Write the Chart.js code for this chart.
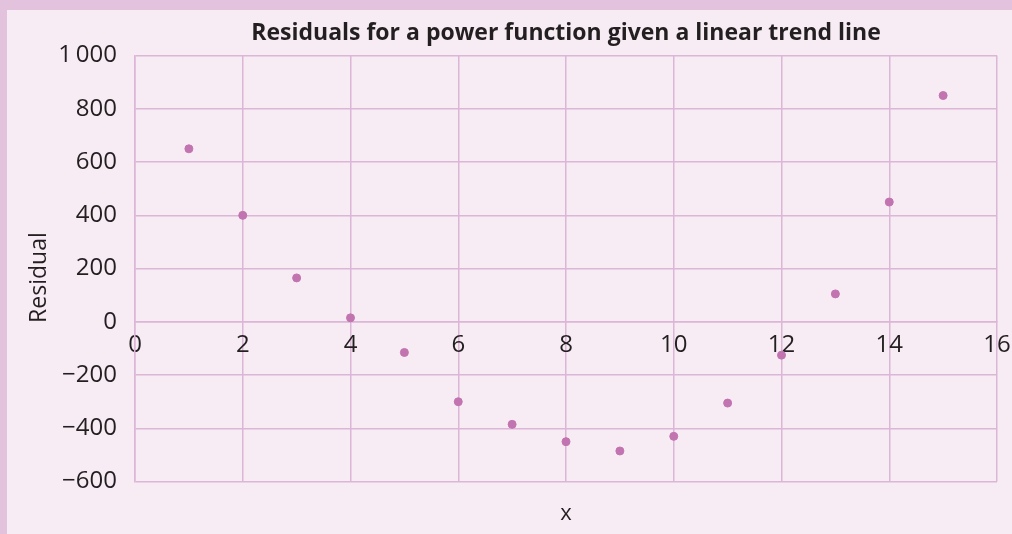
<!DOCTYPE html>
<html>
<head>
<meta charset="utf-8">
<script src="https://cdn.jsdelivr.net/npm/chart.js@4/dist/chart.umd.min.js"></script>
<style>
  body { margin: 0; background: #e2c2dc; width: 1012px; height: 534px; overflow: hidden; }
  #wrap { position: absolute; left: 7px; top: 10px; width: 1005px; height: 524px; background: #f7ebf4; }
</style>
</head>
<body>
<div id="wrap"><canvas id="residualChart"></canvas></div>
<script>
  const xValues = [1, 2, 3, 4, 5, 6, 7, 8, 9, 10, 11, 12, 13, 14, 15];
  const residuals = [650, 400, 165, 15, -115, -300, -385, -450, -485, -430, -305, -125, 105, 450, 850];
  const xTicks = [0, 2, 4, 6, 8, 10, 12, 14, 16];
  const yTicks = [-600, -400, -200, 0, 200, 400, 600, 800, 1000];

  const textColor = "#231f20";
  const gridColor = "#dcb6d6";

  const fmtY = (v) => {
    const abs = Math.abs(v);
    const s = abs >= 1000 ? Math.floor(abs / 1000) + "\u2009" + String(abs % 1000).padStart(3, "0") : String(abs);
    return v < 0 ? "\u2212" + s : s;
  };

  const ctx = document.querySelector("#residualChart");

  new Chart(ctx, {
    type: "scatter",
    data: {
      datasets: [
        {
          data: xValues.map((x, i) => ({ x: x, y: residuals[i] })),
          backgroundColor: "#c274b0",
          borderColor: "#c274b0",
          pointRadius: 4,
        },
      ],
    },
    options: {
      responsive: true,
      maintainAspectRatio: false,
      animation: false,
      layout: { padding: { left: 0, right: 15, top: 0, bottom: 0 } },
      plugins: {
        legend: { display: false },
        tooltip: { enabled: false },
        title: {
          display: true,
          text: "Residuals for a power function given a linear trend line",
          fullSize: false,
          color: textColor,
          font: { family: "Open Sans", size: 23, weight: "bold" },
          padding: { top: 10, bottom: 8 },
        },
        subtitle: {
          display: true,
          position: "bottom",
          text: "x",
          fullSize: false,
          color: textColor,
          font: { family: "Open Sans", size: 22 },
          padding: { top: 19, bottom: 7 },
        },
      },
      scales: {
        x: {
          type: "linear",
          position: { y: 0 },
          min: 0,
          max: 16,
          afterBuildTicks: (scale) => { scale.ticks = xTicks.map((v) => ({ value: v })); },
          afterFit: (scale) => { scale.paddingRight = 0; scale.paddingLeft = 0; },
          ticks: {
            color: textColor,
            font: { family: "Open Sans", size: 24 },
            padding: 9,
            maxRotation: 0,
          },
          grid: { color: gridColor, drawTicks: false, lineWidth: 1.5 },
          border: { color: gridColor, width: 1.5 },
        },
        y: {
          min: -600,
          max: 1000,
          afterBuildTicks: (scale) => { scale.ticks = yTicks.map((v) => ({ value: v })); },
          afterFit: (scale) => { scale.width = 128; },
          ticks: {
            color: textColor,
            font: { family: "Open Sans", size: 24 },
            padding: 18,
            callback: (v) => fmtY(v),
          },
          title: {
            display: true,
            text: "Residual   ",
            color: textColor,
            font: { family: "Open Sans", size: 23 },
            padding: { top: 19, bottom: 0 },
          },
          grid: { color: gridColor, drawTicks: false, lineWidth: 1.5 },
          border: { color: gridColor, width: 1.5 },
        },
      },
    },
  });
</script>
</body>
</html>
